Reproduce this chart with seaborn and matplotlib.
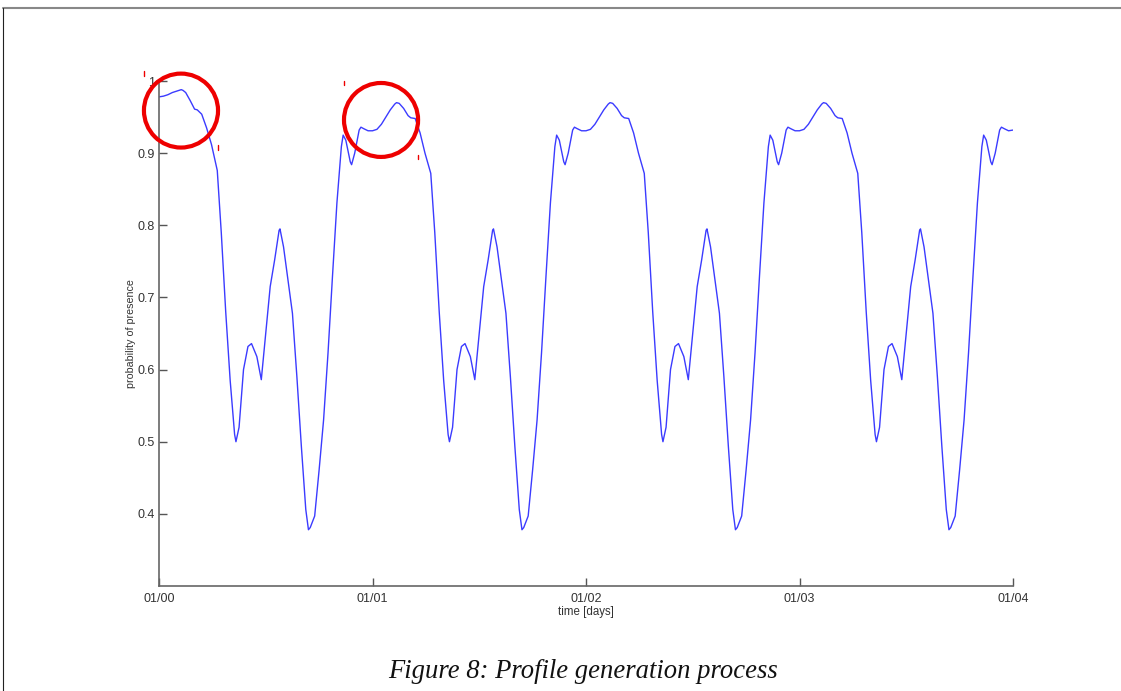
import matplotlib
matplotlib.use("Agg")
import matplotlib.pyplot as plt
import pandas as pd
import seaborn as sns
from matplotlib.patches import Ellipse
from matplotlib.lines import Line2D

# ---- data ----
hours = [0.0, 0.5, 1.0, 1.5, 2.0, 2.5, 2.7, 3.0, 3.5, 4.0, 4.3, 4.8, 5.35, 5.9,
         6.55, 7.0, 7.5, 8.0, 8.5, 8.65, 9.0, 9.5, 10.0, 10.4, 11.0, 11.5, 12.0,
         12.5, 13.0, 13.5, 13.6, 14.0, 14.5, 15.0, 15.5, 16.0, 16.5, 16.8, 17.0,
         17.5, 18.0, 18.5, 19.0, 19.5, 20.0, 20.5, 20.7, 21.0, 21.5, 21.65, 22.0,
         22.5, 22.7, 23.0, 23.5]

first_day_values = [0.978, 0.979, 0.981, 0.984, 0.986, 0.988, 0.987, 0.984, 0.973,
                    0.961, 0.960, 0.954, 0.935, 0.912, 0.876, 0.79, 0.68, 0.585,
                    0.51, 0.500, 0.52, 0.60, 0.632, 0.636, 0.618, 0.586, 0.651,
                    0.715, 0.752, 0.793, 0.795, 0.770, 0.724, 0.678, 0.590, 0.494,
                    0.406, 0.378, 0.381, 0.397, 0.461, 0.530, 0.623, 0.729, 0.831,
                    0.909, 0.925, 0.918, 0.888, 0.884, 0.900, 0.932, 0.936, 0.934,
                    0.931]

day2_values = [0.931, 0.933, 0.940, 0.950, 0.960, 0.968, 0.970, 0.969, 0.962,
               0.952, 0.949, 0.948, 0.928, 0.900, 0.872, 0.79, 0.68, 0.585,
               0.51, 0.500, 0.52, 0.60, 0.632, 0.636, 0.618, 0.586, 0.651,
               0.715, 0.752, 0.793, 0.795, 0.770, 0.724, 0.678, 0.590, 0.494,
               0.406, 0.378, 0.381, 0.397, 0.461, 0.530, 0.623, 0.729, 0.831,
               0.909, 0.925, 0.918, 0.888, 0.884, 0.900, 0.932, 0.936, 0.934,
               0.931]
day3_values = list(day2_values)
day4_values = list(day2_values)
end_value = 0.932

x_ticks = [0, 1, 2, 3, 4]
x_tick_labels = ["01/00", "01/01", "01/02", "01/03", "01/04"]
y_ticks = [0.4, 0.5, 0.6, 0.7, 0.8, 0.9, 1.0]
y_tick_labels = ["0.4", "0.5", "0.6", "0.7", "0.8", "0.9", "1"]

# circled regions (centre in days / probability)
circle_centres = [(0.103, 0.959), (1.04, 0.946)]

# ---- build frame ----
all_days = [first_day_values, day2_values, day3_values, day4_values]
t, p = [], []
for d, vals in enumerate(all_days):
    t += [d + h / 24.0 for h in hours]
    p += list(vals)
t.append(4.0)
p.append(end_value)
df = pd.DataFrame({"time": t, "prob": p})

sns.set_theme(style="white")
plt.rcParams["font.family"] = ["Liberation Sans", "DejaVu Sans"]

fig = plt.figure(figsize=(11.21, 6.91), dpi=100)
fig.patch.set_facecolor("white")
ax = fig.add_axes([159 / 1121, 105 / 691, 854 / 1121, 505 / 691])

sns.lineplot(data=df, x="time", y="prob", ax=ax, color="#3b3bff",
             linewidth=1.0, estimator=None, sort=False)

ax.set_xlim(0, 4)
ax.set_ylim(0.3, 1.0)
ax.set_xticks(x_ticks)
ax.set_xticklabels(x_tick_labels)
ax.set_yticks(y_ticks)
ax.set_yticklabels(y_tick_labels)
for s in ["top", "right"]:
    ax.spines[s].set_visible(False)
for s in ["left", "bottom"]:
    ax.spines[s].set_color("#666666")
    ax.spines[s].set_linewidth(1.2)
ax.tick_params(bottom=True, left=True, direction="in", length=6, width=1.0,
               color="#555555", labelsize=9, labelcolor="#333333", pad=3)
ax.tick_params(axis="x", pad=5)
ax.set_xlabel("time [days]", fontsize=8.3, color="#333333", labelpad=1)
ax.set_ylabel("probability of presence", fontsize=7.7, color="#333333", labelpad=1)

# red annotation circles with their small corner handles
w, h = 0.347, 0.1025
for cx, cy in circle_centres:
    ax.add_patch(Ellipse((cx, cy), w, h, fill=False, ec="#ee0000", lw=3.0,
                         clip_on=False, zorder=5))
    ax.plot([cx - w / 2, cx - w / 2], [cy + h / 2 + 0.003, cy + h / 2 - 0.003],
            color="#ee0000", lw=1.0, clip_on=False)
    ax.plot([cx + w / 2, cx + w / 2], [cy - h / 2 + 0.003, cy - h / 2 - 0.003],
            color="#ee0000", lw=1.0, clip_on=False)

# page frame lines
fig.add_artist(Line2D([3 / 1121, 1.0], [1 - 8 / 691, 1 - 8 / 691],
                      transform=fig.transFigure, color="#888888", lw=1.5))
fig.add_artist(Line2D([3 / 1121, 3 / 1121], [0, 1 - 8 / 691],
                      transform=fig.transFigure, color="#222222", lw=0.8))

fig.text(583 / 1121, 1 - 671 / 691, "Figure 8: Profile generation process",
         ha="center", va="center", family="Liberation Serif", style="italic",
         fontsize=19.2, color="#111111")

fig.savefig("out.png", dpi=100)
